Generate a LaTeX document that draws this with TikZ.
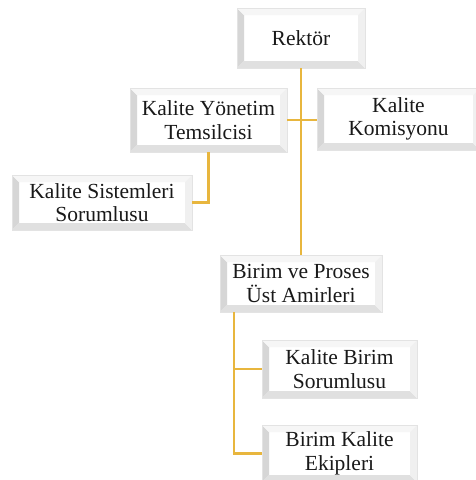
\documentclass[tikz,border=0pt]{standalone}
\usepackage{fontspec}
\setmainfont{Liberation Serif}
\definecolor{linkgold}{RGB}{232,182,62}
\tikzset{
  bevel/.style={path picture={
      % left and bottom bevel darker, top and right lighter
      \fill[gray!32] (path picture bounding box.south west) -- ([shift={(7pt,7pt)}]path picture bounding box.south west)
        -- ([shift={(7pt,-7pt)}]path picture bounding box.north west) -- (path picture bounding box.north west) -- cycle;
      \fill[gray!24] (path picture bounding box.south west) -- ([shift={(7pt,7pt)}]path picture bounding box.south west)
        -- ([shift={(-7pt,7pt)}]path picture bounding box.south east) -- (path picture bounding box.south east) -- cycle;
      \fill[gray!7] (path picture bounding box.north west) -- ([shift={(7pt,-7pt)}]path picture bounding box.north west)
        -- ([shift={(-7pt,-7pt)}]path picture bounding box.north east) -- (path picture bounding box.north east) -- cycle;
      \fill[gray!12] (path picture bounding box.north east) -- ([shift={(-7pt,-7pt)}]path picture bounding box.north east)
        -- ([shift={(-7pt,7pt)}]path picture bounding box.south east) -- (path picture bounding box.south east) -- cycle;
  }},
}
\begin{document}
\begin{tikzpicture}[x=1pt, y=-1pt,
    orgbox/.style={draw=gray!22, line width=0.8pt, fill=white, bevel, align=center,
      inner sep=0pt, text=black!90, font=\fontsize{21.5}{23.5}\selectfont},
    link/.style={draw=linkgold, line width=2.6pt}]
  \useasboundingbox (0,0) rectangle (475,480);

  % box centres
  \coordinate (rk) at (301,38);
  \coordinate (bp) at (301,283.5);
  \coordinate (ky) at (208.5,120);
  \coordinate (kk) at (398.5,119);
  \coordinate (ks) at (102,202.5);
  \coordinate (kb) at (339.5,369);
  \coordinate (be) at (339.5,453.5);

  % boxes
  \node[orgbox, minimum width=128pt, minimum height=60pt] (rektor) at (rk) {Rektör};
  \node[orgbox, minimum width=157pt, minimum height=64pt] (temsilci) at (ky) {Kalite Yönetim\\Temsilcisi};
  \node[orgbox, minimum width=163pt, minimum height=62pt] (komisyon) at (kk) {Kalite\\Komisyonu};
  \node[orgbox, minimum width=180pt, minimum height=55pt] (sistem) at (ks) {Kalite Sistemleri\\Sorumlusu};
  \node[orgbox, minimum width=162pt, minimum height=57pt] (birim) at (bp) {Birim ve Proses\\Üst Amirleri};
  \node[orgbox, minimum width=155pt, minimum height=58pt] (sorumlu) at (kb) {Kalite Birim\\Sorumlusu};
  \node[orgbox, minimum width=155pt, minimum height=57pt] (ekip) at (be) {Birim Kalite\\Ekipleri};

  % main line and side branches
  \draw[link] (rektor) -- (birim);
  \draw[link] (temsilci.east) -- (temsilci.east -| komisyon.west);
  \draw[link] (temsilci.south) |- (sistem.east);

  % units below
  \coordinate (trunk) at ([xshift=-67pt]birim.south);
  \draw[link] (trunk) |- (sorumlu.west);
  \draw[link] (trunk) |- (ekip.west);
\end{tikzpicture}
\end{document}
